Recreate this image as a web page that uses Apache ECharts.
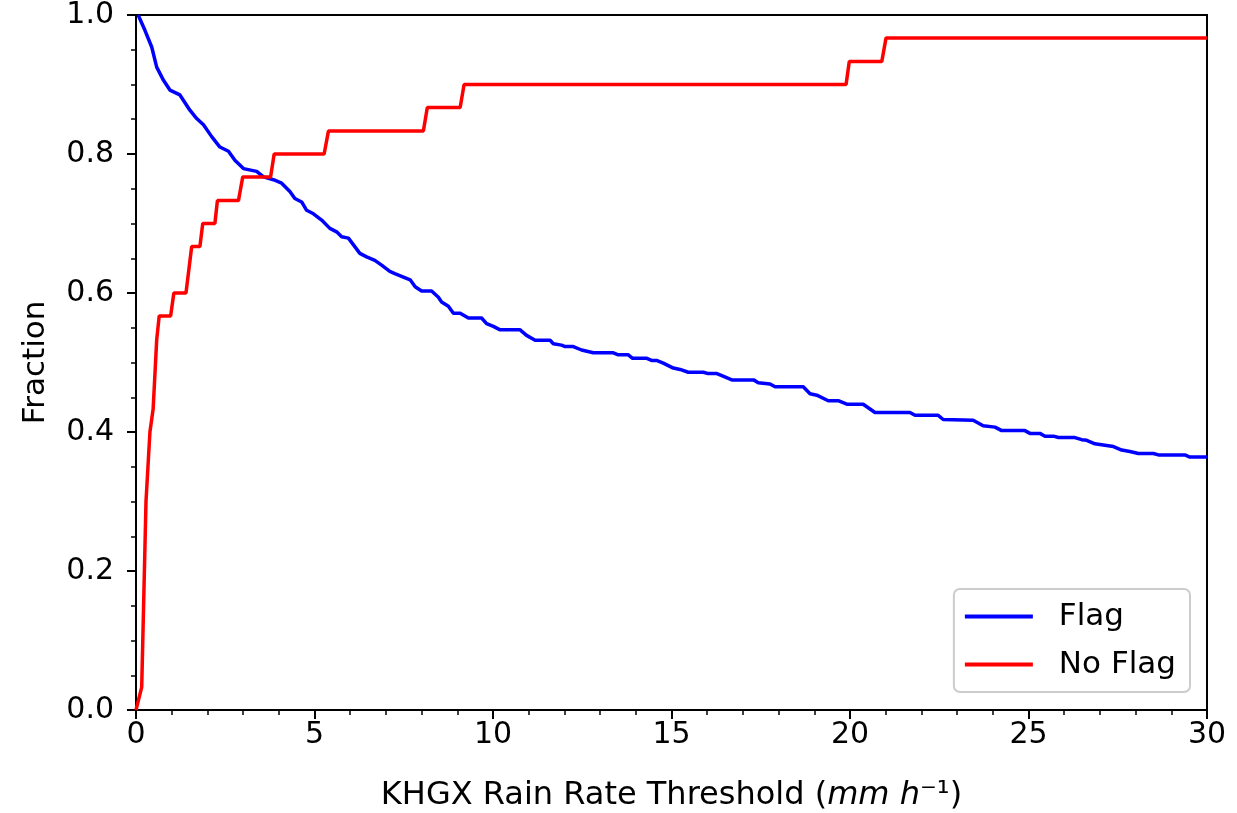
<!DOCTYPE html>
<html>

<head>
	<meta charset="utf-8" />
	<title></title>
	<script type="text/javascript" src="https://cdn.jsdelivr.net/npm/echarts@6/dist/echarts.min.js"></script>
</head>

<body style="margin:0;background:#fff;">
	<div id="main" style="width: 1237px;height:813px;"></div>
</body>
<script>
	// 阈值 (mm/h) 与比例
	var flagX = [0.06, 0.25, 0.44, 0.58, 0.77, 0.95, 1.23, 1.51, 1.70, 1.89, 2.12, 2.35, 2.59, 2.77, 3.01, 3.38, 3.57, 3.85,
		4.08, 4.31, 4.45, 4.64, 4.78, 4.97, 5.20, 5.43, 5.62, 5.76, 5.95, 6.27, 6.46, 6.69, 6.88, 7.11, 7.25, 7.49, 7.68,
		7.82, 8.00, 8.28, 8.47, 8.56, 8.75, 8.89, 9.08, 9.31, 9.68, 9.82, 10.01, 10.20, 10.76, 10.94, 11.18, 11.60, 11.69,
		11.92, 12.02, 12.25, 12.48, 12.81, 13.37, 13.51, 13.79, 13.91, 14.31, 14.44, 14.58, 14.77, 15.05, 15.24, 15.47,
		15.89, 16.03, 16.27, 16.41, 16.69, 17.30, 17.43, 17.76, 17.90, 18.69, 18.88, 19.07, 19.39, 19.67, 19.91, 20.37,
		20.70, 21.68, 21.82, 22.47, 22.61, 23.45, 23.73, 24.06, 24.25, 24.90, 25.04, 25.32, 25.46, 25.70, 25.84, 26.30,
		26.49, 26.63, 26.86, 27.14, 27.38, 27.61, 27.84, 28.08, 28.50, 28.64, 29.38, 29.52, 30.00];
	var flagY = [1.000, 0.978, 0.954, 0.925, 0.906, 0.892, 0.885, 0.863, 0.851, 0.842, 0.825, 0.810, 0.804, 0.791, 0.779, 0.775, 0.767, 0.763,
		0.758, 0.746, 0.736, 0.731, 0.719, 0.714, 0.705, 0.693, 0.688, 0.681, 0.679, 0.657, 0.652, 0.647, 0.640, 0.631, 0.628, 0.623, 0.619,
		0.609, 0.603, 0.603, 0.594, 0.587, 0.581, 0.571, 0.571, 0.564, 0.564, 0.556, 0.552, 0.547, 0.547, 0.539, 0.532, 0.532, 0.527,
		0.525, 0.523, 0.523, 0.518, 0.514, 0.514, 0.511, 0.511, 0.506, 0.506, 0.503, 0.503, 0.499, 0.492, 0.490, 0.486,
		0.486, 0.484, 0.484, 0.481, 0.475, 0.475, 0.471, 0.469, 0.465, 0.465, 0.455, 0.453, 0.445, 0.445, 0.440, 0.440,
		0.428, 0.428, 0.424, 0.424, 0.418, 0.417, 0.409, 0.407, 0.402, 0.402, 0.398, 0.398, 0.394, 0.394, 0.392, 0.392,
		0.389, 0.388, 0.383, 0.381, 0.379, 0.374, 0.372, 0.369, 0.369, 0.367, 0.367, 0.364, 0.364];

	var noFlagX = [0, 0.16, 0.28, 0.39, 0.48, 0.58, 0.65, 0.97, 1.06, 1.40, 1.56, 1.79, 1.87, 2.21, 2.28, 2.87, 2.99, 3.77, 3.87,
		5.27, 5.39, 8.05, 8.16, 9.08, 9.19, 19.89, 19.98, 20.89, 21.01, 30];
	var noFlagY = [0, 0.033, 0.300, 0.400, 0.433, 0.533, 0.567, 0.567, 0.600, 0.600, 0.667, 0.667, 0.700, 0.700, 0.733, 0.733, 0.767, 0.767, 0.800,
		0.800, 0.833, 0.833, 0.867, 0.867, 0.900, 0.900, 0.933, 0.933, 0.967, 0.967];

	var xTicks = [0, 5, 10, 15, 20, 25, 30];

	function pairs(xs, ys) {
		var out = [];
		for (let i = 0; i < xs.length; i++) {
			out.push([xs[i], ys[i]]);
		}
		return out;
	}

	var font = 'DejaVu Sans';
	let myChart = echarts.init(document.getElementById('main'));
	let option = {
		animation: false,
		backgroundColor: '#fff',
		grid: {
			left: 136,
			right: 30,
			top: 15,
			bottom: 103,
			outerBoundsMode: 'none',
			show: true,
			borderColor: '#000',
			borderWidth: 2
		},
		legend: {
			data: ['Flag', 'No Flag'],
			orient: 'vertical',
			right: 47,
			bottom: 121,
			icon: 'rect',
			itemWidth: 68,
			itemHeight: 4,
			itemGap: 17,
			padding: [12, 14, 12, 11],
			backgroundColor: 'rgba(255,255,255,0.8)',
			borderColor: '#cccccc',
			borderWidth: 2,
			borderRadius: 6,
			textStyle: {
				fontFamily: font,
				fontSize: 31,
				color: '#000',
				padding: [0, 0, 0, 21]
			}
		},
		xAxis: [{
			type: 'value',
			min: 0,
			max: 30,
			interval: 5,
			name: '{n|KHGX Rain Rate Threshold (}{i|mm h}{s|⁻¹}{n|)}',
			nameLocation: 'middle',
			nameGap: 70,
			nameTextStyle: {
				rich: {
					n: { fontFamily: font, fontSize: 32, color: '#000' },
					i: { fontFamily: font, fontSize: 32, fontStyle: 'italic', color: '#000' },
					s: { fontFamily: font, fontSize: 32, color: '#000' }
				}
			},
			axisLine: { onZero: false, lineStyle: { color: '#000', width: 2 } },
			axisTick: { length: 9, lineStyle: { color: '#000', width: 2 } },
			minorTick: { show: true, splitNumber: 5, length: 5, lineStyle: { color: '#000', width: 1.5 } },
			splitLine: { show: false },
			axisLabel: {
				margin: 10,
				fontFamily: font,
				fontSize: 30,
				color: '#000',
				customValues: xTicks
			}
		}],
		yAxis: [{
			type: 'value',
			min: 0,
			max: 1,
			interval: 0.2,
			name: 'Fraction',
			nameLocation: 'middle',
			nameGap: 85,
			nameTextStyle: { fontFamily: font, fontSize: 31, color: '#000' },
			axisLine: { onZero: false, lineStyle: { color: '#000', width: 2 } },
			axisTick: { length: 9, lineStyle: { color: '#000', width: 2 } },
			minorTick: { show: true, splitNumber: 4, length: 5, lineStyle: { color: '#000', width: 1.5 } },
			splitLine: { show: false },
			axisLabel: {
				margin: 22,
				fontFamily: font,
				fontSize: 30,
				color: '#000',
				formatter: function (v) { return v.toFixed(1); }
			}
		}],
		series: [{
			name: 'Flag',
			type: 'line',
			symbol: 'none',
			color: '#0000ff',
			lineStyle: { width: 3.5, color: '#0000ff' },
			data: pairs(flagX, flagY)
		}, {
			name: 'No Flag',
			type: 'line',
			symbol: 'none',
			color: '#ff0000',
			lineStyle: { width: 3.5, color: '#ff0000' },
			data: pairs(noFlagX, noFlagY)
		}]
	};
	myChart.setOption(option);
</script>

</html>
